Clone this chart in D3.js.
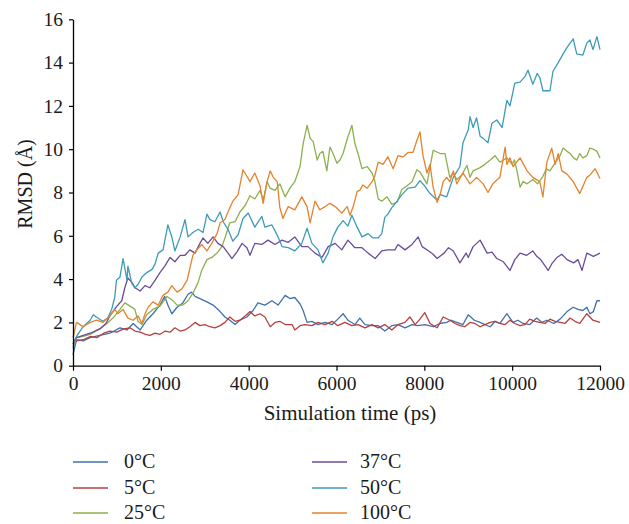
<!DOCTYPE html>
<html><head><meta charset="utf-8">
<script src="https://cdn.jsdelivr.net/npm/d3@7"></script>
<style>
html,body{margin:0;padding:0;background:#fff;}
text{font-family:"Liberation Serif","DejaVu Serif",serif;fill:#1a1a1a;}
</style></head>
<body><svg id="chart" width="629" height="524"></svg>
<script>
// ---- data (time in ps, RMSD in Å) ----
const seriesNames = ["0°C","5°C","25°C","37°C","50°C","100°C"];
const seriesColors = ["#4070b0","#b5403f","#8cb04e","#6b4c9a","#3d9bb8","#e5832d"];
const xTicks = [0,2000,4000,6000,8000,10000,12000];
const yTicks = [0,2,4,6,8,10,12,14,16];

const s0 = [[0,0.5],[80,1.2],[230,1.15],[390,1.3],[610,1.4],[840,1.5],[1070,1.75],[1230,1.65],[1370,1.95],[1530,1.65],[1680,2.1],[1820,2.4],[1980,2.8],[2090,3.2],[2160,2.8],[2250,2.4],[2370,2.7],[2500,2.9],[2620,3.3],[2700,3.4],[2780,3.2],[2890,3.1],[3050,2.95],[3190,2.8],[3350,2.5],[3460,2.25],[3570,2.1],[3690,1.9],[3800,2.1],[3960,2.25],[4100,2.55],[4210,2.9],[4370,2.8],[4530,3.0],[4670,2.8],[4830,3.25],[4940,3.1],[5050,3.15],[5170,2.85],[5240,2.55],[5330,2.0],[5440,2.05],[5580,1.9],[5740,2.0],[5900,1.9],[6030,2.15],[6150,2.4],[6260,2.1],[6420,1.9],[6530,2.2],[6650,1.9],[6810,1.85],[6950,1.85],[7100,1.6],[7260,1.85],[7400,1.9],[7560,1.75],[7720,1.9],[7850,1.85],[8010,1.9],[8200,1.8],[8350,1.95],[8510,2.0],[8600,2.1],[8740,2.0],[8880,1.9],[9000,2.35],[9140,2.1],[9270,2.0],[9380,1.9],[9500,1.8],[9610,2.05],[9720,1.95],[9880,2.4],[10020,2.0],[10130,2.1],[10250,1.95],[10400,1.9],[10560,2.2],[10680,2.0],[10790,2.1],[10950,1.95],[11090,2.15],[11250,2.5],[11390,2.7],[11500,2.6],[11610,2.55],[11700,2.7],[11770,2.4],[11850,2.5],[11930,3.0],[12000,3.0]];

const s5 = [[0,0.9],[80,1.15],[230,1.2],[390,1.35],[550,1.3],[700,1.5],[840,1.6],[1000,1.55],[1150,1.7],[1300,1.75],[1410,1.6],[1530,1.55],[1650,1.45],[1750,1.4],[1870,1.5],[1980,1.45],[2100,1.6],[2210,1.55],[2320,1.75],[2440,1.6],[2550,1.65],[2660,1.8],[2780,2.0],[2890,1.85],[3000,1.9],[3120,1.8],[3230,1.75],[3350,1.85],[3460,2.0],[3570,2.25],[3690,2.05],[3800,2.1],[3920,2.3],[4030,2.5],[4140,2.3],[4260,2.4],[4370,2.25],[4490,1.8],[4600,2.0],[4710,2.05],[4830,1.9],[4990,1.9],[5050,1.65],[5170,1.85],[5280,1.9],[5440,1.85],[5580,2.0],[5740,1.9],[5900,2.05],[6030,1.85],[6190,2.0],[6350,1.85],[6490,1.9],[6650,1.75],[6810,1.9],[6950,1.75],[7100,1.9],[7260,1.65],[7400,1.9],[7560,2.0],[7670,2.25],[7790,1.9],[7900,2.15],[8010,2.45],[8130,1.95],[8290,1.75],[8430,2.25],[8580,2.1],[8700,1.95],[8810,1.85],[8920,1.8],[9040,2.0],[9150,1.95],[9270,1.8],[9380,1.9],[9500,2.0],[9610,2.05],[9720,1.95],[9840,1.9],[9950,2.1],[10060,1.95],[10180,1.85],[10290,1.9],[10400,2.15],[10520,2.05],[10630,2.0],[10750,1.95],[10860,2.15],[10980,2.05],[11090,2.0],[11200,1.95],[11320,2.2],[11430,2.05],[11540,1.95],[11700,2.4],[11840,2.1],[12000,2.0]];

const s25 = [[0,0.8],[80,1.3],[230,1.35],[390,1.45],[610,1.7],[770,1.95],[910,2.2],[1070,2.6],[1180,2.9],[1300,2.75],[1410,2.6],[1480,2.05],[1570,1.9],[1680,2.35],[1820,2.6],[1980,2.75],[2140,3.2],[2250,3.05],[2370,2.8],[2500,2.8],[2620,3.0],[2730,3.35],[2850,3.85],[2930,4.4],[3050,4.9],[3160,5.0],[3280,5.2],[3390,5.5],[3460,5.9],[3570,6.6],[3690,6.65],[3800,7.1],[3920,7.4],[4030,7.85],[4140,7.7],[4260,8.1],[4330,7.65],[4420,8.5],[4490,8.2],[4600,8.1],[4710,8.4],[4830,7.8],[4940,8.2],[5050,8.5],[5170,9.2],[5240,10.25],[5330,11.1],[5400,10.5],[5470,10.35],[5560,9.5],[5620,9.8],[5690,9.9],[5780,9.0],[5850,10.1],[5920,9.8],[6010,9.35],[6080,9.5],[6150,9.8],[6240,10.45],[6350,11.1],[6420,10.25],[6490,9.8],[6580,9.1],[6700,9.2],[6810,8.9],[6870,8.55],[6950,7.7],[7030,7.6],[7150,7.8],[7260,7.45],[7380,7.55],[7490,8.15],[7600,8.3],[7720,8.5],[7830,9.05],[7900,8.95],[8060,8.4],[8200,9.95],[8360,9.8],[8470,9.8],[8580,8.7],[8650,8.9],[8740,8.6],[8850,8.8],[8970,9.25],[9040,8.7],[9110,9.0],[9270,9.15],[9380,9.3],[9500,9.5],[9610,9.7],[9720,9.4],[9880,9.6],[10000,9.3],[10050,9.5],[10110,9.0],[10180,8.25],[10250,8.5],[10340,8.4],[10470,8.6],[10580,8.4],[10700,8.75],[10780,9.1],[10860,9.0],[11020,9.5],[11090,9.7],[11160,10.05],[11250,9.9],[11320,9.8],[11400,9.6],[11470,9.5],[11540,9.8],[11610,9.6],[11700,9.7],[11770,10.05],[11850,10.0],[11930,9.9],[12000,9.6]];

const s37 = [[0,1.0],[80,1.3],[390,1.5],[610,1.7],[750,1.95],[840,2.3],[1000,2.75],[1110,3.0],[1180,3.6],[1250,4.05],[1340,3.85],[1410,3.6],[1530,3.45],[1640,3.7],[1750,3.6],[1870,3.95],[1980,4.3],[2090,4.6],[2210,5.0],[2320,4.8],[2440,5.1],[2550,5.1],[2660,5.35],[2780,5.2],[2890,5.65],[2960,5.9],[3070,5.65],[3190,5.95],[3300,5.65],[3420,5.5],[3530,5.2],[3620,4.95],[3730,5.25],[3850,5.65],[3960,5.45],[4030,5.1],[4140,5.65],[4300,5.6],[4440,5.8],[4600,5.6],[4760,5.8],[4900,5.7],[5050,5.95],[5210,5.5],[5350,5.5],[5510,5.2],[5670,5.0],[5810,5.5],[5970,5.65],[6120,5.35],[6260,5.8],[6420,5.45],[6580,5.45],[6720,5.2],[6880,4.95],[7030,5.3],[7170,5.35],[7330,5.35],[7400,5.6],[7560,5.35],[7720,5.6],[7860,5.95],[7950,5.5],[8100,5.3],[8200,5.15],[8290,4.95],[8450,5.2],[8550,5.45],[8660,5.3],[8810,4.75],[8950,5.2],[9000,5.0],[9110,5.5],[9270,5.8],[9430,5.2],[9540,5.25],[9650,4.95],[9800,4.8],[9950,4.4],[10060,4.9],[10180,5.2],[10330,5.1],[10470,5.3],[10560,5.05],[10650,4.9],[10820,4.4],[10900,4.7],[11020,5.0],[11130,5.15],[11250,4.9],[11400,4.75],[11500,4.9],[11590,4.4],[11700,5.2],[11850,5.05],[12000,5.2]];

const s50 = [[0,1.0],[80,1.35],[230,1.8],[390,2.1],[460,2.35],[530,2.25],[680,2.05],[790,2.2],[880,2.6],[950,3.15],[990,3.95],[1070,4.1],[1140,4.95],[1230,3.95],[1250,4.6],[1340,3.8],[1410,3.6],[1480,3.75],[1570,4.1],[1680,4.3],[1800,4.45],[1870,4.7],[1940,5.2],[2050,5.35],[2160,6.5],[2250,5.95],[2320,5.3],[2440,5.95],[2550,6.75],[2620,5.95],[2730,6.15],[2850,6.3],[2960,6.15],[3050,7.0],[3120,6.75],[3230,6.65],[3350,7.1],[3420,6.65],[3530,6.3],[3640,5.75],[3760,6.05],[3870,6.8],[3990,7.05],[4140,6.4],[4300,6.9],[4370,6.4],[4530,6.5],[4670,5.95],[4760,5.5],[4900,5.45],[5050,5.3],[5210,5.65],[5330,6.35],[5440,5.65],[5580,5.35],[5690,4.75],[5810,5.2],[5920,5.95],[6030,6.4],[6150,6.7],[6260,6.45],[6350,6.95],[6470,6.4],[6580,5.95],[6720,6.1],[6830,5.9],[6950,5.9],[7030,6.1],[7100,6.85],[7170,7.0],[7260,7.3],[7380,7.6],[7490,7.9],[7630,8.2],[7790,8.25],[7900,8.55],[8010,8.3],[8130,7.95],[8290,7.65],[8360,7.9],[8510,7.8],[8660,8.7],[8810,9.2],[8880,10.3],[9000,10.9],[9040,11.5],[9110,11.0],[9190,11.45],[9270,10.6],[9340,10.5],[9450,10.3],[9540,11.2],[9650,11.35],[9770,11.0],[9880,12.25],[9950,12.0],[10060,13.05],[10180,13.1],[10290,13.35],[10360,13.65],[10470,13.0],[10570,13.5],[10630,13.3],[10700,12.7],[10860,12.7],[10930,13.6],[11050,14.0],[11160,14.4],[11250,14.7],[11390,15.1],[11470,14.4],[11610,14.35],[11700,14.9],[11770,15.05],[11840,14.6],[11930,15.2],[12000,14.6]];

const s100 = [[0,1.3],[80,2.0],[230,1.8],[390,2.0],[540,2.1],[680,2.0],[840,2.3],[950,2.6],[1020,2.4],[1140,2.6],[1250,2.2],[1370,2.1],[1480,2.3],[1570,1.95],[1640,2.4],[1710,2.7],[1820,2.95],[1940,2.8],[2050,3.25],[2160,3.4],[2250,3.7],[2370,3.4],[2480,3.55],[2600,3.95],[2660,4.5],[2730,5.1],[2820,5.35],[2930,5.6],[3050,5.3],[3160,5.65],[3280,6.1],[3350,6.6],[3460,6.75],[3530,7.1],[3640,7.6],[3760,7.9],[3870,9.05],[3960,8.75],[4030,8.5],[4140,8.9],[4260,8.3],[4330,7.5],[4420,8.5],[4490,9.0],[4560,8.7],[4650,8.5],[4710,7.3],[4780,6.8],[4900,7.35],[5050,7.2],[5210,7.8],[5330,7.35],[5400,6.6],[5510,7.6],[5620,7.2],[5740,7.35],[5850,7.5],[5970,7.35],[6120,7.05],[6240,7.35],[6310,6.95],[6380,7.35],[6470,8.05],[6530,8.1],[6600,8.35],[6700,8.2],[6810,8.5],[6870,8.75],[6950,9.4],[7060,9.3],[7170,9.65],[7290,9.1],[7400,9.7],[7520,9.65],[7630,9.85],[7740,9.85],[7830,10.4],[7900,10.8],[7970,9.7],[8060,8.9],[8130,9.3],[8200,8.25],[8290,7.55],[8360,7.9],[8430,8.5],[8510,8.7],[8580,8.5],[8660,9.0],[8740,8.4],[8880,8.9],[9040,8.4],[9190,8.7],[9340,8.4],[9450,8.0],[9560,8.4],[9720,8.7],[9840,10.1],[9880,9.3],[9950,9.6],[10020,9.2],[10180,9.6],[10340,9.0],[10470,8.7],[10630,8.5],[10700,7.8],[10790,9.4],[10900,10.05],[10980,9.3],[11050,9.8],[11130,9.0],[11250,8.85],[11390,8.5],[11540,7.95],[11700,8.7],[11770,8.8],[11890,9.1],[12000,8.65]];

const seriesData = [s0, s5, s25, s37, s50, s100];

// ---- drawing ----
const svg = d3.select("#chart");
const x = d3.scaleLinear().domain([0,12000]).range([73,600]);
const y = d3.scaleLinear().domain([0,16]).range([365.7,19.3]);

const line = d3.line().x(d => x(d[0])).y(d => y(d[1]));

const gLines = svg.append("g");
seriesData.forEach((s,i) => {
  gLines.append("path").datum(s)
    .attr("fill","none")
    .attr("stroke",seriesColors[i])
    .attr("stroke-width",1.3)
    .attr("stroke-linejoin","round")
    .attr("d",line);
});

const xAxis = svg.append("g").attr("transform",`translate(0,${y(0)})`)
  .call(d3.axisBottom(x).tickValues(xTicks).tickFormat(d3.format("d")).tickSize(5).tickSizeOuter(0).tickPadding(5));
const yAxis = svg.append("g").attr("transform",`translate(${x(0)},0)`)
  .call(d3.axisLeft(y).tickValues(yTicks).tickFormat(d3.format("d")).tickSize(4).tickSizeOuter(0).tickPadding(6));
[xAxis,yAxis].forEach(g => {
  g.selectAll("path.domain").attr("stroke","#000").attr("stroke-width",1.3);
  g.selectAll(".tick line").attr("stroke","#000").attr("stroke-width",1.2);
  g.selectAll(".tick text").attr("font-size",19.5).attr("font-family","Liberation Serif, DejaVu Serif, serif").attr("fill","#1a1a1a");
});

svg.append("text").attr("x",350).attr("y",420).attr("text-anchor","middle")
  .attr("font-size",21).text("Simulation time (ps)");
svg.append("text").attr("transform","translate(32,184) rotate(-90)").attr("text-anchor","middle")
  .attr("font-size",20).text("RMSD (Å)");

// legend
const legX = [73, 312];
const legY = [462, 488, 513];
seriesNames.forEach((name,i) => {
  const col = Math.floor(i/3), row = i%3;
  const lx = legX[col], ly = legY[row];
  svg.append("line").attr("x1",lx).attr("x2",lx+35).attr("y1",ly).attr("y2",ly)
    .attr("stroke",seriesColors[i]).attr("stroke-width",1.5);
  svg.append("text").attr("x",lx+(col===0?51:48)).attr("y",ly+6).attr("font-size",20).text(name);
});
</script></body></html>
